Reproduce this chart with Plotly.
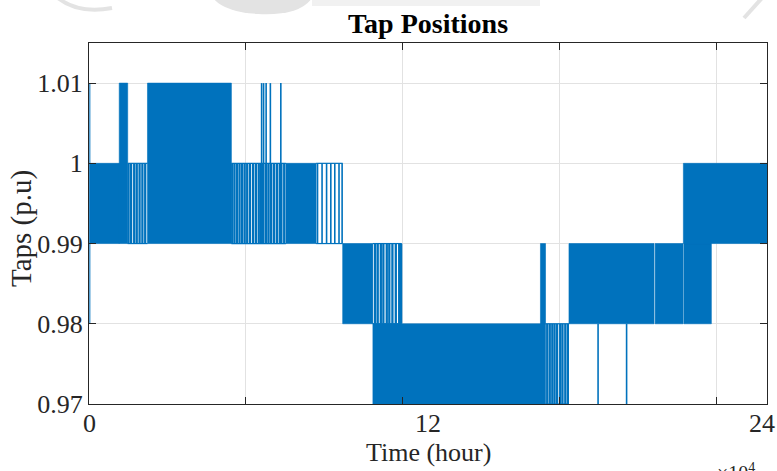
import plotly.graph_objects as go

# Tap changer activity over one day (time in hours, tap ratio in p.u.).
# Each segment is a stretch where the tap hovers between two positions:
# dense = switching too fast to resolve, sparse = individual tap moves.
seg_start = [0.03, 1.07, 1.37, 2.07, 5.04, 6.97, 8.04, 8.98, 10.05, 10.05, 15.98, 16.16, 16.99, 20.04, 21.06, 21.04]
seg_end   = [1.07, 1.37, 2.07, 5.04, 6.97, 8.04, 8.98, 10.05, 11.07, 16.16, 16.16, 16.99, 20.00, 21.03, 22.03, 24.00]
seg_low   = [0.99, 0.99, 0.99, 0.99, 0.99, 0.99, 0.99, 0.98, 0.98, 0.97, 0.98, 0.97, 0.98, 0.98, 0.98, 0.99]
seg_high  = [1.00, 1.01, 1.00, 1.01, 1.00, 1.00, 1.00, 0.99, 0.99, 0.98, 0.99, 0.98, 0.99, 0.99, 0.99, 1.00]
seg_dense = [1, 1, 0, 1, 0, 1, 0, 1, 0, 1, 1, 0, 1, 1, 1, 1]

# Bursts of tap moves inside the sparse stretches (hour, lower tap, upper tap)
burst_time = [1.40, 1.49, 1.60, 1.69, 1.79, 1.89, 1.99,
              5.07, 5.15, 5.24, 5.33, 5.42, 5.51, 5.60, 5.70, 5.81, 5.91, 6.01, 6.09, 6.16,
              6.26, 6.35, 6.45, 6.55, 6.65, 6.75, 6.81, 6.91,
              10.13, 10.22, 10.33, 10.42, 10.54, 10.63, 10.74, 10.86, 10.98, 11.05,
              16.22, 16.31, 16.40, 16.48, 16.57, 16.68, 16.76, 16.86, 16.95]
burst_low = [0.99] * 7 + [0.99] * 21 + [0.98] * 10 + [0.97] * 9
burst_high = [1.00] * 7 + [1.00] * 21 + [0.99] * 10 + [0.98] * 9

# Single tap excursions (hour, lower tap, upper tap)
single_time = [6.11, 6.18, 6.27, 6.42, 6.79,
               8.09, 8.25, 8.41, 8.56, 8.70, 8.85, 8.96,
               18.02, 19.03]
single_low = [0.99] * 5 + [0.99] * 7 + [0.97] * 2
single_high = [1.01] * 5 + [1.00] * 7 + [0.98] * 2

# Start-up excursion at t = 0
start_time = [0.03]
start_low = [0.98]
start_high = [1.01]

y_ticks = [0.97, 0.98, 0.99, 1.00, 1.01]
y_tick_text = ["0.97", "0.98", "0.99", "1", "1.01"]
x_grid_sec = [0, 20000, 40000, 60000, 80000]
x_label_hours = [0, 12, 24]

SEC = 3600
BLUE = "#0072BD"
INK = "#262626"
FONT = "Liberation Serif"

# plot-area geometry in pixels
L, R, T, B = 89, 767, 43, 404


def px(x, y):
    return (x - L) / (R - L), (B - y) / (B - T)


def vstrokes(times, lows, highs):
    xs, ys = [], []
    for t, lo, hi in zip(times, lows, highs):
        xs += [t * SEC, t * SEC, None]
        ys += [lo, hi, None]
    return xs, ys


# dense bands as filled rectangles
bx, by = [], []
for s, e, lo, hi, d in zip(seg_start, seg_end, seg_low, seg_high, seg_dense):
    if d:
        bx += [s * SEC, e * SEC, e * SEC, s * SEC, s * SEC, None]
        by += [lo, lo, hi, hi, lo, None]

# hold levels of sparse stretches
hx, hy = [], []
for s, e, lo, hi, d in zip(seg_start, seg_end, seg_low, seg_high, seg_dense):
    if not d:
        for lvl in (lo, hi):
            hx += [s * SEC, e * SEC, None]
            hy += [lvl, lvl, None]

ux, uy = vstrokes(burst_time, burst_low, burst_high)
vx, vy = vstrokes(single_time, single_low, single_high)
sx, sy = vstrokes(start_time, start_low, start_high)

fig = go.Figure()
fig.add_trace(go.Scatter(x=bx, y=by, mode="lines", fill="toself", fillcolor=BLUE,
                         line=dict(color=BLUE, width=0.6), hoverinfo="skip"))
fig.add_trace(go.Scatter(x=hx, y=hy, mode="lines", line=dict(color=BLUE, width=1.2), hoverinfo="skip"))
fig.add_trace(go.Scatter(x=ux, y=uy, mode="lines", line=dict(color=BLUE, width=2.3), hoverinfo="skip"))
fig.add_trace(go.Scatter(x=vx, y=vy, mode="lines", line=dict(color=BLUE, width=1.6), hoverinfo="skip"))
fig.add_trace(go.Scatter(x=sx, y=sy, mode="lines", line=dict(color=BLUE, width=1.0), hoverinfo="skip"))

axis_common = dict(showline=True, linecolor=INK, linewidth=1, mirror="ticks",
                   ticks="inside", ticklen=7, tickwidth=1, tickcolor=INK,
                   showgrid=True, gridcolor="#e2e2e2", gridwidth=1, zeroline=False,
                   automargin=False)

# faint header marks along the top edge
x0, y0 = px(58, -2)
x1, y1 = px(78, 14)
x2, y2 = px(112, 8)
blob = "M {} {} L {} {} Q {} {} {} {} Q {} {} {} {} Z".format(
    *px(213, -2), *px(312, -2), *px(300, 16), *px(258, 14), *px(224, 12), *px(213, -2))
arc = "M {} {} Q {} {} {} {}".format(x0, y0, x1, y1, x2, y2)
shapes = [
    dict(type="path", path=arc, xref="paper", yref="paper",
         line=dict(color="#e3e3e3", width=4)),
    dict(type="path", path=blob, xref="paper", yref="paper",
         fillcolor="#e3e3e3", line=dict(width=0)),
    dict(type="rect", xref="paper", yref="paper",
         x0=px(312, 0)[0], x1=px(540, 0)[0], y0=px(0, 6)[1], y1=px(0, -2)[1],
         fillcolor="#f1f1f1", line=dict(width=0)),
    dict(type="line", xref="paper", yref="paper",
         x0=px(744, 18)[0], y0=px(744, 18)[1], x1=px(762, -2)[0], y1=px(762, -2)[1],
         line=dict(color="#e3e3e3", width=4)),
]

# hour labels under the time axis; the last one is kept inside the page edge
hour_labels = []
for i, h in enumerate(x_label_hours):
    last = i == len(x_label_hours) - 1
    hour_labels.append(dict(
        text=str(h), xref="x", yref="paper", x=h * SEC, y=px(0, 423)[1],
        xanchor="right" if last else "center", xshift=10 if last else 0,
        yanchor="middle", showarrow=False,
        font=dict(family=FONT, size=26, color=INK)))

fig.update_layout(
    width=777, height=471,
    margin=dict(l=L, r=777 - R, t=T, b=471 - B, autoexpand=False),
    plot_bgcolor="white", paper_bgcolor="white",
    showlegend=False,
    font=dict(family=FONT, color=INK),
    shapes=shapes,
    xaxis=dict(range=[0, 24 * SEC], tickvals=x_grid_sec, showticklabels=False, **axis_common),
    yaxis=dict(range=[0.97, 1.015], tickvals=y_ticks, ticktext=y_tick_text,
               tickfont=dict(family=FONT, size=26, color=INK), **axis_common),
    annotations=hour_labels + [
        dict(text="<b>Tap Positions</b>", xref="paper", yref="paper", x=0.5, y=1.0554,
             xanchor="center", yanchor="middle", showarrow=False,
             font=dict(family=FONT, size=28, color="black")),
        dict(text="Time (hour)", xref="paper", yref="paper", x=0.5, y=-0.1357,
             xanchor="center", yanchor="middle", showarrow=False,
             font=dict(family=FONT, size=26, color=INK)),
        dict(text="Taps (p.u)", xref="paper", yref="paper", x=-0.1003, y=0.4875,
             xanchor="center", yanchor="middle", textangle=-90, showarrow=False,
             font=dict(family=FONT, size=29, color=INK)),
        dict(text="×10<sup>4</sup>", xref="paper", yref="paper", x=0.985, y=-0.150,
             xanchor="right", yanchor="top", showarrow=False,
             font=dict(family=FONT, size=20, color=INK)),
    ],
)

fig.write_html("out.html")
